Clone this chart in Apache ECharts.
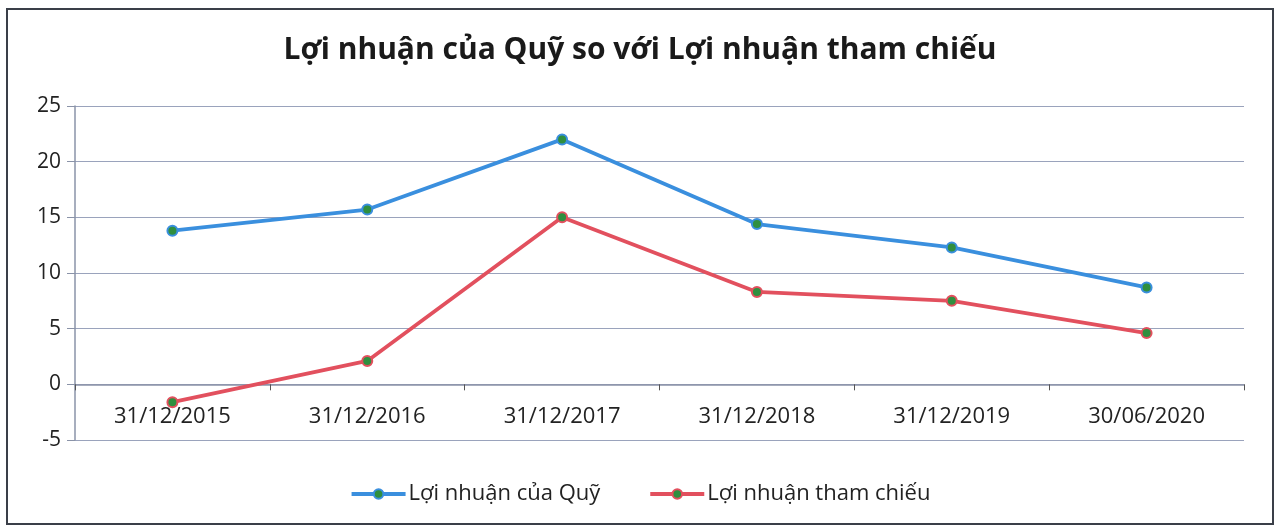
<!DOCTYPE html>
<html><head><meta charset="utf-8">
<script src="https://cdn.jsdelivr.net/npm/echarts@6/dist/echarts.min.js"></script>
<style>html,body{margin:0;padding:0;background:#fff}#c{width:1280px;height:527px}
#frame{position:absolute;left:6px;top:8px;width:1268px;height:517px;border:2px solid #3a3f48;box-sizing:border-box;pointer-events:none}</style>
</head><body><div id="c"></div><div id="frame"></div>
<script>
const categories = ['31/12/2015','31/12/2016','31/12/2017','31/12/2018','31/12/2019','30/06/2020'];
const fundReturn = [13.8, 15.7, 22.0, 14.4, 12.3, 8.7];
const benchmarkReturn = [-1.6, 2.1, 15.0, 8.3, 7.5, 4.6];
const seriesNames = ['Lợi nhuận của Quỹ', 'Lợi nhuận tham chiếu'];
const titleText = 'Lợi nhuận của Quỹ so với Lợi nhuận tham chiếu';

const font = '"Open Sans", "Noto Sans", sans-serif';
const chart = echarts.init(document.getElementById('c'));
const mk = (name, data, color) => ({
  name, type: 'line', data, symbol: 'circle', symbolSize: 10,
  lineStyle: {color, width: 3.8},
  itemStyle: {color: '#2f8f3f', borderColor: color, borderWidth: 2},
  emphasis: {disabled: true}
});
chart.setOption({
  animation: false,
  title: {text: titleText, left: 'center', top: 30,
    textStyle: {fontFamily: font, fontSize: 30, fontWeight: 'bold', color: '#1a1a1a'}},
  legend: {top: 478, left: 'center', itemGap: 48, itemWidth: 54, itemHeight: 12,
    lineStyle: {width: 4},
    textStyle: {fontFamily: font, fontSize: 22, color: '#222', padding: [0, 0, 0, -2]},
    data: seriesNames.map(n => ({name: n}))},
  grid: {left: 75, right: 36, top: 106, bottom: 87},
  xAxis: {type: 'category', data: categories, boundaryGap: true,
    axisLine: {onZero: true, lineStyle: {color: '#8a93a8', width: 1.5}},
    axisTick: {show: true, length: 6, lineStyle: {color: '#555'}},
    axisLabel: {fontFamily: font, fontSize: 22, color: '#222', margin: -34}},
  yAxis: {type: 'value', min: -5, max: 25, interval: 5,
    axisLine: {show: true, lineStyle: {color: '#8a93a8', width: 1.5}},
    axisTick: {show: true, length: 8, inside: false, lineStyle: {color: '#8a93a8'}},
    splitLine: {lineStyle: {color: '#9aa3bc', width: 1.2}},
    axisLabel: {fontFamily: font, fontSize: 21, color: '#222', margin: 14}},
  series: [mk(seriesNames[0], fundReturn, '#3a8fde'), mk(seriesNames[1], benchmarkReturn, '#e2505e')]
});
</script></body></html>
